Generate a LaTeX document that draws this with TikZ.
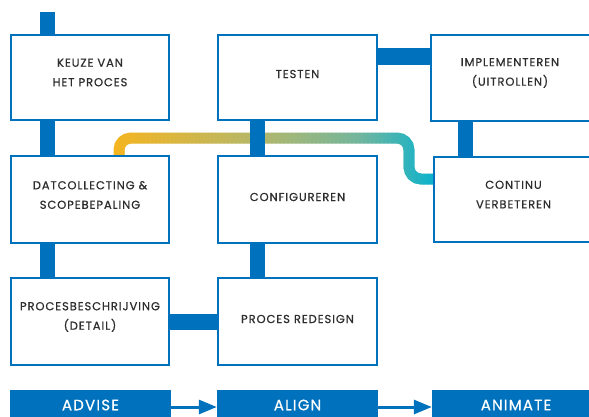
\documentclass[tikz,border=0pt]{standalone}
\usepackage{fontspec}
\setmainfont{Poppins}[LetterSpace=8, FakeBold=0.6]
\usetikzlibrary{backgrounds,arrows.meta}
\definecolor{mblue}{RGB}{0,113,188}
\definecolor{mtext}{RGB}{45,45,45}
\tikzset{
  box/.style={draw=mblue, line width=2pt, fill=white, inner sep=0pt},
  lbl/.style={text=mtext, font=\fontsize{11.5}{19.5}\selectfont, align=center, inner sep=0pt},
  stub/.style={draw=mblue, line width=15pt},
  phase/.style={fill=mblue, inner sep=0pt, text=white, font=\fontsize{15}{17}\selectfont},
  flow/.style={draw=mblue, line width=3pt, -{Triangle[length=18pt,width=14pt]}},
  band/.style={line width=11pt, rounded corners=12pt}
}
\begin{document}
\begin{tikzpicture}[x=1pt,y=-1pt]
\useasboundingbox (0,0) rectangle (589,416);
% boxes
\node[box, minimum width=158pt, minimum height=85pt] (k) at (90,77.5) {};
\node[box, minimum width=158pt, minimum height=87pt] (d) at (90,199.5) {};
\node[box, minimum width=158pt, minimum height=87pt] (p) at (90,321.5) {};
\node[box, minimum width=159pt, minimum height=85pt] (t) at (297.5,77.5) {};
\node[box, minimum width=159pt, minimum height=87pt] (c) at (297.5,199.5) {};
\node[box, minimum width=159pt, minimum height=87pt] (r) at (297.5,321.5) {};
\node[box, minimum width=168pt, minimum height=86pt] (i) at (515,78) {};
\node[box, minimum width=165pt, minimum height=85pt] (v) at (516.5,199.5) {};
% labels
\node[lbl] (kt) at (90,72.5) {KEUZE VAN\\HET PROCES};
\node[lbl] (dt) at (90,195) {DATCOLLECTING \&\\SCOPEBEPALING};
\node[lbl] (pt) at (90,317) {PROCESBESCHRIJVING\\(DETAIL)};
\node[lbl] (tt) at (297.5,74) {TESTEN};
\node[lbl] (ct) at (297.5,197) {CONFIGUREREN};
\node[lbl] (rt) at (297.5,319) {PROCES REDESIGN};
\node[lbl] (it) at (510,73) {IMPLEMENTEREN\\(UITROLLEN)};
\node[lbl] (vt) at (513.5,194.5) {CONTINU\\VERBETEREN};
% phases
\node[phase, minimum width=161pt, minimum height=30pt] (adv) at (90.5,405) {ADVISE};
\node[phase, minimum width=161pt, minimum height=30pt] (al) at (297.5,405) {ALIGN};
\node[phase, minimum width=168pt, minimum height=30pt] (an) at (516,405) {ANIMATE};
\draw[flow] ([yshift=-2pt]adv.east) -- ([yshift=-2pt]adv.east -| al.west);
\draw[flow] ([yshift=-2pt]al.east) -- ([yshift=-2pt]al.east -| an.west);
\coordinate (top) at (47.5,12);
\begin{pgfonlayer}{background}
  \foreach \i in {0,...,83} {
    \pgfmathsetmacro{\xa}{108+4*\i}
    \pgfmathsetmacro{\xc}{min(max(\xa+2,113),433)}
    \pgfmathsetmacro{\ta}{(\xc-113)/147}
    \pgfmathsetmacro{\tb}{(\xc-260)/100}
    \pgfmathsetmacro{\tc}{(\xc-360)/73}
    \pgfmathtruncatemacro{\rr}{\xc<260 ? 246-66*\ta : (\xc<360 ? 180-65*\tb : 115-101*\tc)}
    \pgfmathtruncatemacro{\gg}{\xc<260 ? 181+3*\ta : (\xc<360 ? 184-2*\tb : 182-3*\tc)}
    \pgfmathtruncatemacro{\bb}{\xc<260 ? 32+76*\ta : (\xc<360 ? 108+50*\tb : 158+46*\tc)}
    \definecolor{bandc}{RGB}{\rr,\gg,\bb}
    \begin{scope}
      \clip (\xa-0.4,115) rectangle (\xa+4.4,200);
      \draw[band, bandc] ([xshift=29pt]d.north) |- (409,138) -- (409,179) -- ([yshift=20.5pt]v.west);
    \end{scope}
  }
  \draw[stub] (top) -- (top |- k.north);
  \draw[stub] ([xshift=-42.5pt]k.south) -- ([xshift=-42.5pt]d.north);
  \draw[stub] ([xshift=-42.5pt]d.south) -- ([xshift=-42.5pt]p.north);
  \draw[stub] ([xshift=-40pt]t.south) -- ([xshift=-40pt]c.north);
  \draw[stub] ([xshift=-40pt]c.south) -- ([xshift=-40pt]r.north);
  \draw[stub] ([xshift=-49.5pt]i.south) -- ([xshift=-49.5pt]i.south |- v.north);
  \draw[stub, line width=16pt] ([yshift=-0.5pt]p.east) -- ([yshift=-0.5pt]p.east -| r.west);
  \draw[stub, line width=17pt] ([yshift=21pt]t.east) -- ([yshift=21pt]t.east -| i.west);
\end{pgfonlayer}
\end{tikzpicture}
\end{document}
